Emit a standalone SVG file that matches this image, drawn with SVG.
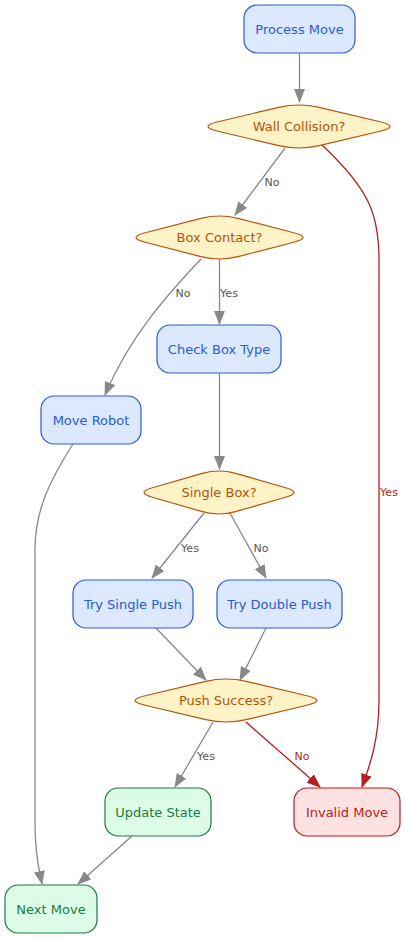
<svg xmlns="http://www.w3.org/2000/svg" width="406" height="939" viewBox="0 0 406 939">
<style>
text{font-family:"DejaVu Sans","Liberation Sans",sans-serif;text-anchor:middle}
.nt{font-size:13px}
.blue rect{fill:#dbe8fd;stroke:#2b5bd8;stroke-width:1.2}
.blue text{fill:#2b5bd8}
.dec path{fill:#fef3c7;stroke:#b45309;stroke-width:1.2}
.dec text{fill:#b45309}
.green rect{fill:#dcfce7;stroke:#1f7a3f;stroke-width:1.2}
.green text{fill:#1f7a3f}
.red rect{fill:#fee2e2;stroke:#b91c1c;stroke-width:1.2}
.red text{fill:#b91c1c}
.e{fill:none;stroke:#888;stroke-width:1.3}
.er{fill:none;stroke:#b91c1c;stroke-width:1.3}
.lb{font-size:11px;fill:#555}
.lr{font-size:11px;fill:#b91c1c}
</style>
<defs>
<marker id="ag" viewBox="0 0 14 11" refX="13" refY="5.5" markerWidth="14" markerHeight="11" markerUnits="userSpaceOnUse" orient="auto"><path d="M0,0 L14,5.5 L0,11 z" fill="#888"/></marker>
<marker id="ar" viewBox="0 0 14 11" refX="13" refY="5.5" markerWidth="14" markerHeight="11" markerUnits="userSpaceOnUse" orient="auto"><path d="M0,0 L14,5.5 L0,11 z" fill="#b91c1c"/></marker>
</defs>
<g id="connectors">
<path class="e" d="M299.5,53 L299.5,102" marker-end="url(#ag)"/>
<path class="e" d="M285,148 L235,215" marker-end="url(#ag)"/>
<path class="er" d="M322,145 C370,190 379,215 379,260 L379,700 C379,740 370,765 362,787" marker-end="url(#ar)"/>
<path class="e" d="M219.5,259 L219.5,324" marker-end="url(#ag)"/>
<path class="e" d="M201,259 C170,292 130,335 105,395" marker-end="url(#ag)"/>
<path class="e" d="M219.5,373 L219.5,469" marker-end="url(#ag)"/>
<path class="e" d="M204,513 L152,578" marker-end="url(#ag)"/>
<path class="e" d="M230,513 L266,578" marker-end="url(#ag)"/>
<path class="e" d="M156,628 L206,680" marker-end="url(#ag)"/>
<path class="e" d="M266,628 L240,680" marker-end="url(#ag)"/>
<path class="e" d="M213,722 L175,787" marker-end="url(#ag)"/>
<path class="er" d="M246,722 L320,787" marker-end="url(#ar)"/>
<path class="e" d="M73,444 C50,480 35,510 35,550 L35,820 C35,850 38,865 42,884" marker-end="url(#ag)"/>
<path class="e" d="M132,836 L78,884" marker-end="url(#ag)"/>
<text class="lb" x="272" y="186">No</text>
<text class="lr" x="389" y="496">Yes</text>
<text class="lb" x="229" y="297">Yes</text>
<text class="lb" x="183" y="297">No</text>
<text class="lb" x="190" y="552">Yes</text>
<text class="lb" x="261" y="552">No</text>
<text class="lb" x="206" y="760">Yes</text>
<text class="lr" x="302" y="760">No</text>
</g>
<g id="process_move" class="blue"><rect x="244" y="5" width="111" height="48" rx="13"/><text class="nt" x="299.5" y="33.5">Process Move</text></g>
<g id="wall_collision" class="dec"><path d="M218,131.28 Q198,126.5 218,121.72 L278.8,107.38 Q299,102.6 319.2,107.38 L380,121.72 Q400,126.5 380,131.28 L319.2,145.62 Q299,150.4 278.8,145.62 Z"/><text class="nt" x="299" y="131">Wall Collision?</text></g>
<g id="box_contact" class="dec"><path d="M145.26,242.28 Q126.7,237.5 145.26,232.72 L200.94,218.38 Q219.5,213.6 238.06,218.38 L293.74,232.72 Q312.3,237.5 293.74,242.28 L238.06,256.62 Q219.5,261.4 200.94,256.62 Z"/><text class="nt" x="219.5" y="242">Box Contact?</text></g>
<g id="check_box_type" class="blue"><rect x="157" y="325" width="124" height="48" rx="13"/><text class="nt" x="219" y="353.5">Check Box Type</text></g>
<g id="move_robot" class="blue"><rect x="41" y="396" width="100" height="48" rx="13"/><text class="nt" x="91" y="424.5">Move Robot</text></g>
<g id="single_box" class="dec"><path d="M152.36,497.28 Q135.7,492.5 152.36,487.72 L202.34,473.38 Q219,468.6 235.66,473.38 L285.64,487.72 Q302.3,492.5 285.64,497.28 L235.66,511.62 Q219,516.4 202.34,511.62 Z"/><text class="nt" x="219" y="497">Single Box?</text></g>
<g id="try_single_push" class="blue"><rect x="73" y="580" width="120" height="48" rx="13"/><text class="nt" x="133" y="608.5">Try Single Push</text></g>
<g id="try_double_push" class="blue"><rect x="217" y="580" width="125" height="48" rx="13"/><text class="nt" x="279.5" y="608.5">Try Double Push</text></g>
<g id="push_success" class="dec"><path d="M145.2,705.28 Q125,700.5 145.2,695.72 L205.8,681.38 Q226,676.6 246.2,681.38 L306.8,695.72 Q327,700.5 306.8,705.28 L246.2,719.62 Q226,724.4 205.8,719.62 Z"/><text class="nt" x="226" y="705">Push Success?</text></g>
<g id="update_state" class="green"><rect x="105" y="788" width="106" height="48" rx="13"/><text class="nt" x="158" y="816.5">Update State</text></g>
<g id="invalid_move" class="red"><rect x="294" y="788" width="106" height="48" rx="13"/><text class="nt" x="347" y="816.5">Invalid Move</text></g>
<g id="next_move" class="green"><rect x="5" y="885" width="92" height="48" rx="13"/><text class="nt" x="51" y="913.5">Next Move</text></g>
</svg>
